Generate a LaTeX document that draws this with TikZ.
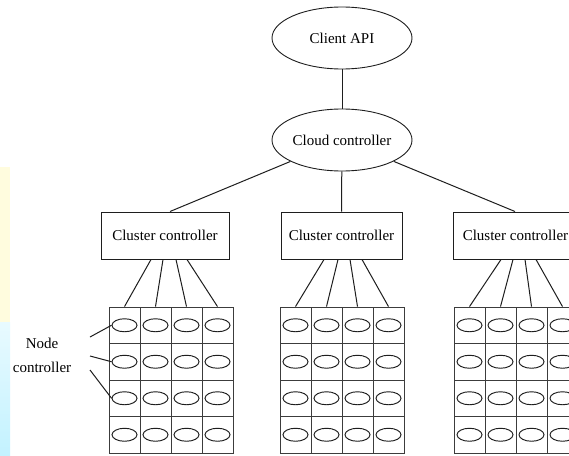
\documentclass[tikz,border=0pt]{standalone}
\usepackage{fontspec}
\setmainfont{Liberation Serif}
\usetikzlibrary{shapes.geometric}
\definecolor{ink}{RGB}{30,30,30}
\definecolor{gridink}{RGB}{60,60,60}
\definecolor{paleyellow}{RGB}{255,252,222}
\definecolor{cyantop}{RGB}{232,250,255}
\definecolor{cyanbot}{RGB}{195,242,255}
\tikzset{
  oval/.style={draw=ink, ellipse, line width=0.9pt, minimum width=140pt, minimum height=62pt, inner sep=0pt, font=\fontsize{15}{18}\selectfont},
  ccbox/.style={draw=ink, rectangle, line width=1pt, minimum height=47pt, inner sep=0pt, font=\fontsize{15}{18}\selectfont},
  cellbox/.style={draw=gridink, rectangle, line width=0.85pt, minimum width=31pt, minimum height=36.5pt, inner sep=0pt},
  nodeoval/.style={draw=ink, ellipse, line width=0.95pt, minimum width=25pt, minimum height=13pt, inner sep=0pt},
  wire/.style={draw=ink, line width=1pt},
  lbl/.style={align=center, font=\fontsize{15}{24}\selectfont, inner sep=0pt}
}
\begin{document}
\begin{tikzpicture}[x=1pt,y=-1pt]
\useasboundingbox (0,0) rectangle (569,455);
\clip (0,0) rectangle (569,455);
\fill[white] (0,0) rectangle (569,455);
% side strip
\fill[paleyellow] (0,167) rectangle (10,322);
\shade[top color=cyantop, bottom color=cyanbot] (0,322) rectangle (10,455);

% top ellipses
\node[oval] (client) at (342,38) {Client API};
\node[oval] (cloud) at (342,140) {Cloud controller};
\draw[wire] (client) -- (cloud);

% cluster controllers
\node[ccbox, minimum width=128pt] (ccL) at (165,235.5) {Cluster controller};
\node[ccbox, minimum width=121pt] (ccM) at (341.5,235.5) {Cluster controller};
\node[ccbox, minimum width=124pt] (ccR) at (515.5,235.5) {Cluster controller};
\draw[wire] (cloud) -- ([xshift=5pt]ccL.north);
\draw[wire] (cloud) -- (ccM.north);
\draw[wire] (cloud) -- ([xshift=-0.5pt]ccR.north);

% grids of node controllers
\foreach \g/\xo in {L/109,M/280,R/454}{
  \foreach \r in {1,...,4}{
    \foreach \c in {1,...,4}{
      \node[cellbox] (g\g-\r-\c) at ({\xo+15.5+31*(\c-1)},{307+18.25+36.5*(\r-1)}) {};
      \node[nodeoval] (n\g-\r-\c) at (g\g-\r-\c) {};
    }
  }
}

% links cluster -> grid columns
\draw[wire] ([xshift=-14pt]ccL.south) -- (gL-1-1.north);
\draw[wire] ([xshift=-2pt]ccL.south) -- (gL-1-2.north);
\draw[wire] ([xshift=11pt]ccL.south) -- (gL-1-3.north);
\draw[wire] ([xshift=22pt]ccL.south) -- (gL-1-4.north);
\draw[wire] ([xshift=-17.5pt]ccM.south) -- (gM-1-1.north);
\draw[wire] ([xshift=-3.5pt]ccM.south) -- (gM-1-2.north);
\draw[wire] ([xshift=8.5pt]ccM.south) -- (gM-1-3.north);
\draw[wire] ([xshift=20.5pt]ccM.south) -- (gM-1-4.north);
\draw[wire] ([xshift=-14.5pt]ccR.south) -- (gR-1-1.north);
\draw[wire] ([xshift=-2.5pt]ccR.south) -- (gR-1-2.north);
\draw[wire] ([xshift=9.5pt]ccR.south) -- (gR-1-3.north);
\draw[wire] ([xshift=20.5pt]ccR.south) -- (gR-1-4.north);

% node controller label
\node[lbl] (ncl) at (42,355) {Node\\controller};
\coordinate (p1) at (90,337);
\coordinate (p2) at (90,356);
\coordinate (p3) at (90,370);
\draw[wire] (p1) -- (nL-1-1.west);
\draw[wire] (p2) -- (nL-2-1.west);
\draw[wire] (p3) -- (nL-3-1.west);
\end{tikzpicture}
\end{document}
